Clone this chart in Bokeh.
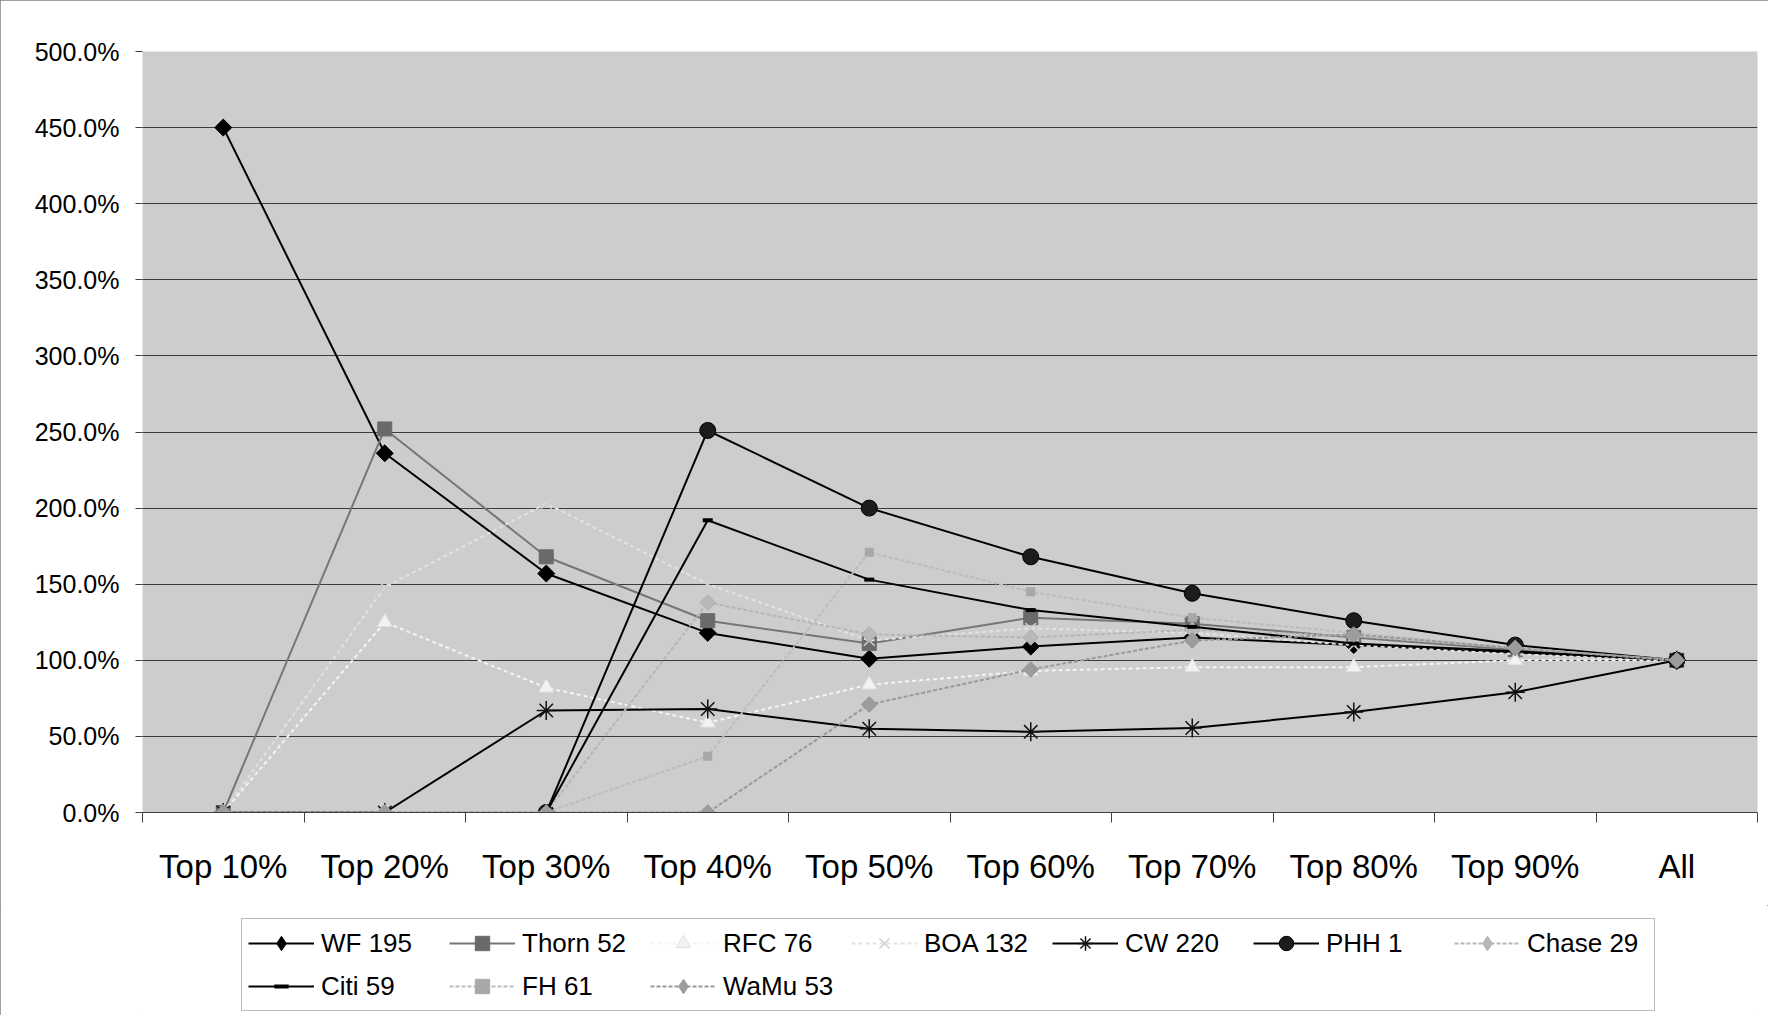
import math
from bokeh.plotting import figure
from bokeh.layouts import column
from bokeh.models import (Range1d, FixedTicker, PrintfTickFormatter, Legend,
                          LegendItem, ColumnDataSource)
from bokeh.embed import file_html
from bokeh.resources import INLINE

nan = float("nan")

# ---- data (values in percent) ----
categories = ["Top 10%", "Top 20%", "Top 30%", "Top 40%", "Top 50%",
              "Top 60%", "Top 70%", "Top 80%", "Top 90%", "All"]
y_ticks = [0, 50, 100, 150, 200, 250, 300, 350, 400, 450, 500]

wf_195   = [450, 236, 157, 118, 101, 109, 115, 110, 105, 100]
thorn_52 = [0, 252, 168, 126, 111, 128, 124, 115, 107, 100]
rfc_76   = [0, 125, 82, 59, 84, 93, 95.5, 95.5, 100, 100]
boa_132  = [0, 148, 203, 150, 113, 121, 118, 110, 104, 100]
cw_220   = [0, 0, 67, 68, 55, 53, 55.5, 66, 79, 100]
phh_1    = [nan, nan, 0, 251, 200, 168, 144, 126, 110, 100]
chase_29 = [0, 0, 0, 138, 117, 115, 120, 116, 108, 100]
citi_59  = [nan, nan, 0, 192, 153, 133, 122, 111, 106, 100]
fh_61    = [0, 0, 0, 37, 171, 145, 128, 118, 108, 100]
wamu_53  = [0, 0, 0, 0, 71, 94, 113, 117, 108, 100]

series = [
    ("WF 195", wf_195),
    ("Thorn 52", thorn_52),
    ("RFC 76", rfc_76),
    ("BOA 132", boa_132),
    ("CW 220", cw_220),
    ("PHH 1", phh_1),
    ("Chase 29", chase_29),
    ("Citi 59", citi_59),
    ("FH 61", fh_61),
    ("WaMu 53", wamu_53),
]

# ---- styles (plot marker, legend marker) ----
styles = {
    "WF 195":   dict(lc="#000000", lw=2, dash="solid", marker="square", lmarker="diamond", size=12, angle=math.pi / 4, fc="#000000", mc="#000000", mw=1),
    "Thorn 52": dict(lc="#767676", lw=2, dash="solid", marker="square", lmarker="square", size=14, angle=0, fc="#6a6a6a", mc="#6a6a6a", mw=1),
    "RFC 76":   dict(lc="#f4f4f4", lw=2, dash="4 3", marker="triangle", lmarker="triangle", size=15, angle=0, fc="#f2f2f2", mc="#e0e0e0", mw=1),
    "BOA 132":  dict(lc="#e2e2e2", lw=2, dash="4 3", marker="x", lmarker="x", size=15, angle=0, fc="#d0d0d0", mc="#d0d0d0", mw=1.5),
    "CW 220":   dict(lc="#000000", lw=2, dash="solid", marker="asterisk", lmarker="asterisk", size=19, angle=0, fc="#000000", mc="#111111", mw=1.5),
    "PHH 1":    dict(lc="#000000", lw=2, dash="solid", marker="circle", lmarker="circle", size=16, angle=0, fc="#1c1c1c", mc="#000000", mw=1),
    "Chase 29": dict(lc="#b6b6b6", lw=2, dash="4 2", marker="square", lmarker="diamond", size=11, angle=math.pi / 4, fc="#b8b8b8", mc="#b0b0b0", mw=1),
    "Citi 59":  dict(lc="#000000", lw=2, dash="solid", marker="dash", lmarker="dash", size=10, angle=0, fc="#000000", mc="#000000", mw=4),
    "FH 61":    dict(lc="#bcbcbc", lw=2, dash="4 2", marker="square", lmarker="square", size=8, angle=0, fc="#a8a8a8", mc="#a8a8a8", mw=1),
    "WaMu 53":  dict(lc="#9a9a9a", lw=2, dash="4 2", marker="square", lmarker="diamond", size=11, angle=math.pi / 4, fc="#9c9c9c", mc="#959595", mw=1),
}

FONT = "Liberation Sans"
W = 1768

# ---------------- main chart ----------------
p = figure(width=W, height=905, output_backend="svg", toolbar_location=None,
           x_range=Range1d(0, len(categories)), y_range=Range1d(0, 500),
           min_border_left=142, min_border_right=11, min_border_top=51,
           min_border_bottom=93)

p.background_fill_color = "#cdcdcd"
p.border_fill_color = "white"
p.outline_line_color = None

xs = [i + 0.5 for i in range(len(categories))]
bounds = list(range(len(categories) + 1))

# x axis: labels at centres, ticks between categories
p.xaxis.ticker = FixedTicker(ticks=xs, minor_ticks=bounds)
p.xaxis.major_label_overrides = {x: c for x, c in zip(xs, categories)}
p.xaxis.major_tick_out = 0
p.xaxis.major_tick_in = 0
p.xaxis.minor_tick_out = 10
p.xaxis.minor_tick_in = 0
p.xaxis.minor_tick_line_color = "#404040"
p.xaxis.axis_line_color = "#404040"
p.xaxis.major_label_text_font = FONT
p.xaxis.major_label_text_font_size = "33px"
p.xaxis.major_label_text_color = "black"
p.xaxis.major_label_standoff = 25

# y axis
p.yaxis.ticker = FixedTicker(ticks=y_ticks)
p.yaxis.formatter = PrintfTickFormatter(format="%.1f%%")
p.yaxis.axis_line_color = None
p.yaxis.major_tick_out = 7
p.yaxis.major_tick_in = 0
p.yaxis.major_tick_line_color = "#404040"
p.yaxis.minor_tick_line_color = None
p.yaxis.major_label_text_font = FONT
p.yaxis.major_label_text_font_size = "25px"
p.yaxis.major_label_text_color = "black"
p.yaxis.major_label_standoff = 16

p.xgrid.grid_line_color = None
p.ygrid.ticker = FixedTicker(ticks=y_ticks)
p.ygrid.grid_line_color = "#3c3c3c"
p.ygrid.grid_line_width = 1

# ---------------- legend strip ----------------
p2 = figure(width=W, height=110, output_backend="svg", toolbar_location=None,
            x_range=Range1d(-20, -19), y_range=Range1d(-20, -19),
            x_axis_location=None, y_axis_location=None, min_border=0)
p2.grid.visible = False
p2.outline_line_color = None
p2.background_fill_color = "white"
p2.border_fill_color = "white"

items = []
for name, vals in series:
    st = styles[name]
    src = ColumnDataSource(dict(x=xs, y=vals))
    p.line("x", "y", source=src, line_color=st["lc"], line_width=st["lw"],
           line_dash=st["dash"])
    p.scatter("x", "y", source=src, marker=st["marker"], size=st["size"],
              angle=st["angle"], fill_color=st["fc"], line_color=st["mc"],
              line_width=st["mw"])
    # same series in the legend strip (outside its ranges) for legend glyphs
    rl = p2.line("x", "y", source=src, line_color=st["lc"], line_width=st["lw"],
                 line_dash=st["dash"])
    rm = p2.scatter("x", "y", source=src, marker=st["lmarker"], size=st["size"],
                    fill_color=st["fc"], line_color=st["mc"],
                    line_width=st["mw"])
    items.append(LegendItem(label=name, renderers=[rl, rm]))

legend = Legend(items=items, orientation="horizontal", ncols=7, nrows=2,
                location=(99, 4), margin=0,
                glyph_width=66, glyph_height=36, label_width=121,
                label_height=36, label_standoff=7, spacing=7, padding=6,
                label_text_font=FONT, label_text_font_size="26px",
                label_text_color="black",
                border_line_color="#7a7a7a", border_line_width=1,
                background_fill_color="white", background_fill_alpha=1.0)
p2.add_layout(legend)

layout = column(p, p2, spacing=0,
                styles={"outline": "1px solid #808080", "outline-offset": "-1px"})

open("out.html", "w").write(file_html(layout, INLINE))
